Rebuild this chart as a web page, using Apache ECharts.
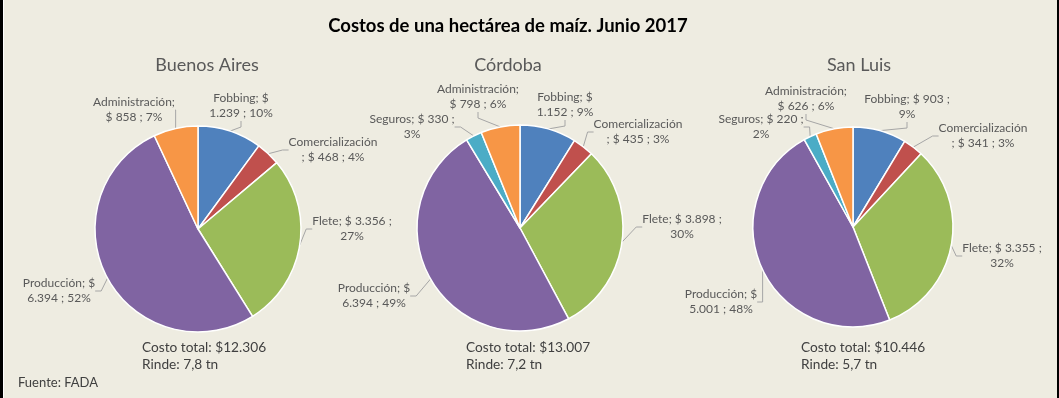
<!DOCTYPE html>
<html>
<head>
<meta charset="utf-8">
<script src="https://cdn.jsdelivr.net/npm/echarts@6/dist/echarts.min.js"></script>
<style>
	body { margin: 0; background: #000; }
	#wrap { position: relative; width: 1059px; height: 398px; }
	#chart { position: absolute; left: 0; top: 0; width: 1059px; height: 398px; }
	#marco { position: absolute; left: 0; top: 0; width: 1059px; height: 398px; box-sizing: border-box;
		border-left: 3px solid #000; border-right: 2px solid #000; box-shadow: inset 1px 0 0 #fff; pointer-events: none; }
</style>
</head>
<body>
<div id="wrap"><div id="chart"></div><div id="marco"></div></div>
<script>
// datos
var categorias = ['Fobbing', 'Comercialización', 'Flete', 'Producción', 'Seguros', 'Administración'];
var regiones = ['Buenos Aires', 'Córdoba', 'San Luis'];
var buenosAires = [1239, 468, 3356, 6394, null, 858];
var cordoba = [1152, 435, 3898, 6394, 330, 798];
var sanLuis = [903, 341, 3355, 5001, 220, 626];
var costoTotal = ['$12.306', '$13.007', '$10.446'];
var rinde = ['7,8 tn', '7,2 tn', '5,7 tn'];

var colores = ['#4F81BD', '#C0504D', '#9BBB59', '#8064A2', '#4BACC6', '#F79646'];

// palabras en la primera linea de cada etiqueta (0 = corta antes del ';')
var cortes = [
	[2, 0, 4, 2, 4, 1],
	[2, 0, 4, 2, 4, 1],
	[4, 0, 4, 2, 4, 1]
];
// centro de cada etiqueta
var posEtiquetas = [
	[[241, 106], [333, 150], [352, 229], [59, 291], null, [134, 110]],
	[[565, 105], [638, 132], [682, 227], [374, 296], [412, 127], [478, 97]],
	[[907, 107], [983, 136], [1002, 256], [721, 302], [761, 127], [806, 99]]
];
var centros = [[198, 229], [520, 228], [853, 227]];
var radios = [103, 103, 100];

function miles(v) {
	return String(v).replace(/\B(?=(\d{3})+(?!\d))/g, '.');
}

function etiqueta(r, p) {
	var i = categorias.indexOf(p.name);
	var n = cortes[r][i];
	var pct = Math.round(p.percent) + '%';
	if (n == 0) {
		return p.name + '\n; $ ' + miles(p.value) + ' ; ' + pct;
	}
	var w = [p.name + ';', '$', miles(p.value), ';', pct];
	return w.slice(0, n).join(' ') + '\n' + w.slice(n).join(' ');
}

var fuente = 'Lato, "Open Sans", sans-serif';
var datos = [buenosAires, cordoba, sanLuis];
var series = [];
var titulos = [{
	text: 'Costos de una hectárea de maíz. Junio 2017',
	left: 508, top: 17, textAlign: 'center', padding: 0,
	textStyle: { fontFamily: fuente, fontSize: 18.5, fontWeight: 'bold', color: '#000' }
}, {
	text: 'Fuente: FADA',
	left: 18, top: 376, padding: 0,
	textStyle: { fontFamily: fuente, fontSize: 13, fontWeight: 'normal', color: '#404040' }
}];
var tituloX = [207, 508, 859];
var totalX = [142, 466, 801];

function serie(r) {
	var d = [];
	for (var i = 0; i < categorias.length; i++) {
		if (datos[r][i] == null) continue;
		d.push({ name: categorias[i], value: datos[r][i], itemStyle: { color: colores[i] } });
	}
	return {
		type: 'pie',
		center: centros[r],
		radius: radios[r],
		startAngle: 90,
		clockwise: true,
		data: d,
		itemStyle: { borderColor: '#fff', borderWidth: 1.5 },
		label: {
			show: true,
			position: 'outside',
			formatter: function (p) { return etiqueta(r, p); },
			fontFamily: fuente,
			fontSize: 12,
			lineHeight: 15,
			color: '#595959',
			align: 'center'
		},
		labelLine: {
			show: true,
			length: 8,
			length2: 6,
			lineStyle: { color: '#a6a6a6', width: 1 }
		},
		labelLayout: function (params) {
			var pos = posEtiquetas[r][categorias.indexOf(d[params.dataIndex].name)];
			return { x: pos[0], y: pos[1], align: 'center', verticalAlign: 'middle' };
		},
		emphasis: { disabled: true }
	};
}

for (var r = 0; r < 3; r++) {
	titulos.push({
		text: regiones[r],
		left: tituloX[r], top: 56, textAlign: 'center', padding: 0,
		textStyle: { fontFamily: fuente, fontSize: 18, fontWeight: 'normal', color: '#595959' }
	});
	titulos.push({
		text: 'Costo total: ' + costoTotal[r] + '\nRinde: ' + rinde[r],
		left: totalX[r], top: 339, padding: 0,
		textStyle: { fontFamily: fuente, fontSize: 13.7, fontWeight: 'normal', color: '#404040', lineHeight: 17 }
	});
	series.push(serie(r));
}

var mychart = echarts.init(document.getElementById('chart'));
mychart.setOption({
	backgroundColor: '#EEECE1',
	animation: false,
	title: titulos,
	series: series
});
</script>
</body>
</html>
